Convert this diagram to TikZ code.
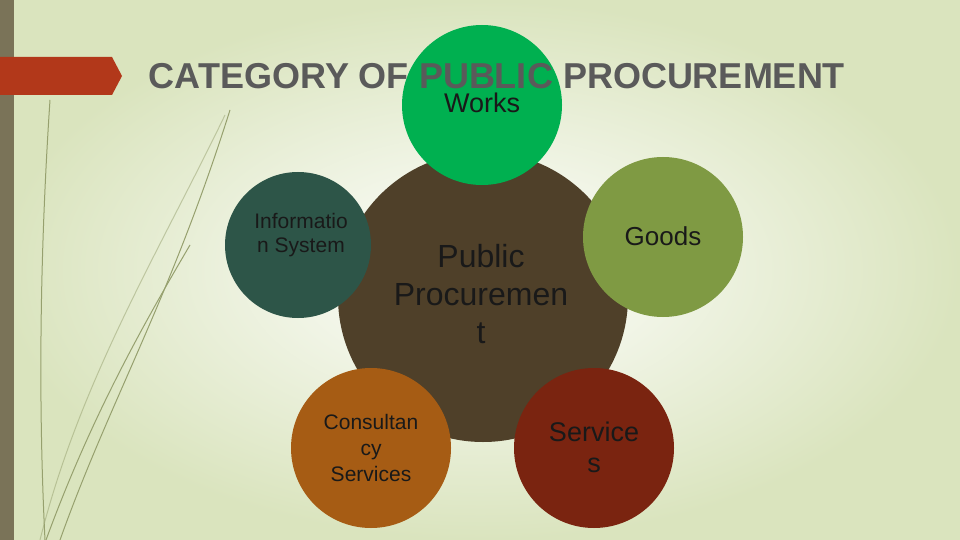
\documentclass[tikz,border=0pt]{standalone}
\usepackage{fontspec}
\setmainfont{Liberation Sans}
\definecolor{bgout}{RGB}{218,228,190}
\definecolor{barc}{RGB}{122,115,88}
\definecolor{arrowc}{RGB}{178,56,26}
\definecolor{grass}{RGB}{150,160,110}
\definecolor{cbrown}{RGB}{79,64,41}
\definecolor{cgreen}{RGB}{0,176,80}
\definecolor{colive}{RGB}{127,154,67}
\definecolor{cred}{RGB}{122,36,16}
\definecolor{corange}{RGB}{166,92,20}
\definecolor{cteal}{RGB}{45,85,72}
\definecolor{ctitle}{RGB}{90,90,90}
\begin{document}
\begin{tikzpicture}[x=1pt,y=-1pt,
  lbl/.style={align=center,text=black!90}]
\useasboundingbox (0,0) rectangle (960,540);
\shade[inner color=white,outer color=bgout] (0,0) rectangle (960,540);
\fill[barc] (0,0) rectangle (14,540);
\fill[arrowc] (0,57) -- (112,57) -- (122,76) -- (112,95) -- (0,95) -- cycle;
\begin{scope}[draw=grass,line width=1pt]
\draw (50,100) .. controls (40,250) and (38,400) .. (45,540);
\draw (46,540) .. controls (90,420) and (140,330) .. (190,245);
\draw (60,540) .. controls (110,400) and (170,300) .. (230,110);
\draw[opacity=.5] (40,540) .. controls (80,380) and (160,250) .. (225,115);
\end{scope}
\fill[cbrown] (483,297) circle (145);
\fill[cgreen] (482,105) circle (80);
\fill[colive] (663,237) circle (80);
\fill[cred] (594,448) circle (80);
\fill[corange] (371,448) circle (80);
\fill[cteal] (298,245) circle (73);
\node[font=\bfseries\fontsize{36}{40}\selectfont,text=ctitle] (title) at (497,76) {CATEGORY OF PUBLIC PROCUREMENT};
\node[lbl,font=\fontsize{27}{32}\selectfont] (works) at (482,103) {Works};
\node[lbl,font=\fontsize{21}{24}\selectfont] (info) at (301,235) {Informatio\\n System};
\node[lbl,font=\fontsize{32}{38}\selectfont] (pp) at (481,294) {Public\\Procuremen\\t};
\node[lbl,font=\fontsize{26}{30}\selectfont] (goods) at (663,236) {Goods};
\node[lbl,font=\fontsize{27}{31}\selectfont] (serv) at (594,447) {Service\\s};
\node[lbl,font=\fontsize{21}{26}\selectfont] (cons) at (371,448) {Consultan\\cy\\Services};
\end{tikzpicture}
\end{document}
